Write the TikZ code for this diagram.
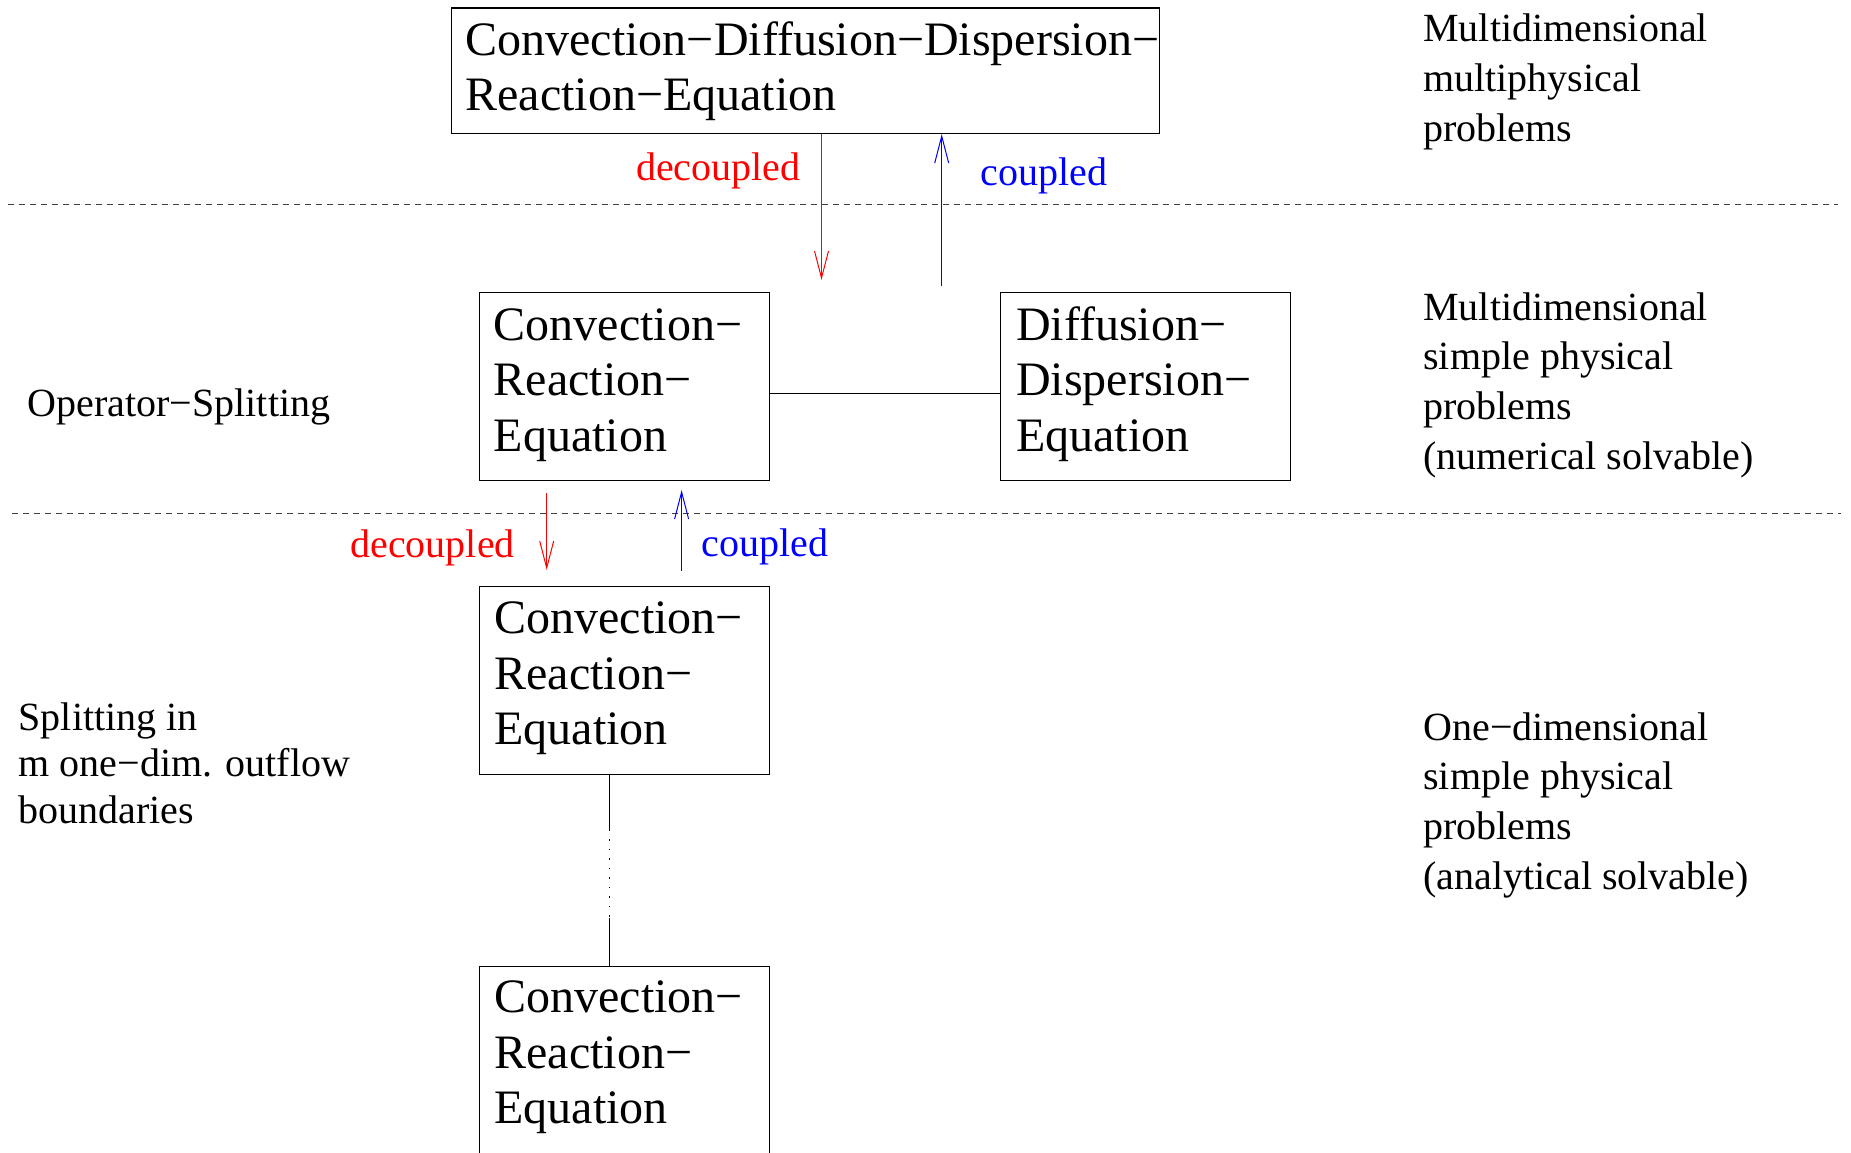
\documentclass[tikz,border=0pt]{standalone}
\usepackage{fontspec}
\setmainfont{Liberation Serif}
\usetikzlibrary{arrows.meta,calc}
\newcommand\mlines[1]{\begin{tabular}[t]{@{}l@{}}#1\end{tabular}}
\begin{document}
\begin{tikzpicture}[x=0.5pt,y=-0.5pt,
  eqbox/.style={draw,line width=0.7pt,rectangle,inner sep=0pt,anchor=north west,
    minimum width=144.8pt,minimum height=94.1pt},
  bigtxt/.style={font=\fontsize{24pt}{27.75pt}\selectfont,inner sep=0pt,anchor=base west},
  smalltxt/.style={font=\fontsize{20pt}{24.85pt}\selectfont,inner sep=0pt,anchor=base west},
  lefttxt/.style={font=\fontsize{20pt}{23.35pt}\selectfont,inner sep=0pt,anchor=base west},
  lbl/.style={font=\fontsize{20pt}{24pt}\selectfont,inner sep=0pt},
  link/.style={line width=0.7pt},
  arr/.style={line width=0.5pt,-{Straight Barb[length=13.5pt,width=7pt,line width=0.5pt]}},
  sepline/.style={line width=0.5pt,black!75,dash pattern=on 2.75pt off 2.75pt},
  dotline/.style={line width=0.5pt,dash pattern=on 0.6pt off 4.15pt}]
\clip (0,0) rectangle (1851,1152);
\fill[white] (0,0) rectangle (1851,1152);

% separators
\coordinate (s1a) at (8,204.5);  \coordinate (s1b) at (1838,204.5);
\coordinate (s2a) at (12,513.3); \coordinate (s2b) at (1841,513.3);
\draw[sepline] (s1a) -- (s1b);
\draw[sepline] (s2a) -- (s2b);

% boxes
\node[eqbox,minimum width=354.1pt,minimum height=62.7pt] (top) at (450.7,7.3) {};
\node[bigtxt] (toptxt) at ($(top.north west)+(14.5,47.7)$)
  {\mlines{Convection−Diffusion−Dispersion−\\Reaction−Equation}};
\node[eqbox] (cre) at (479,291.7) {};
\node[bigtxt] (cretxt) at ($(cre.north west)+(14.4,48.3)$)
  {\mlines{Convection−\\Reaction−\\Equation}};
\node[eqbox] (dde) at (1000,291.7) {};
\node[bigtxt] (ddetxt) at ($(dde.north west)+(15.8,48.3)$)
  {\mlines{Diffusion−\\Dispersion−\\Equation}};
\node[eqbox] (cr1) at (479,585.7) {};
\node[bigtxt] (cr1txt) at ($(cr1.north west)+(15,47.9)$)
  {\mlines{Convection−\\Reaction−\\Equation}};
\node[eqbox] (crm) at (479,965.7) {};
\node[bigtxt] (crmtxt) at ($(crm.north west)+(15,47.1)$)
  {\mlines{Convection−\\Reaction−\\Equation}};

% connectors
\draw[link] ([yshift=-3.5pt]cre.east) -- ([yshift=-3.5pt]dde.west);
\coordinate (v1) at (609.3,829.8);
\coordinate (v2) at (609.3,917.5);
\draw[link,line width=0.55pt] (cr1.south -| v1) -- (v1);
\draw[dotline] (v1) -- (v2);
\draw[link,line width=0.55pt] (v2) -- (crm.north -| v2);

% coupling arrows (top)
\coordinate (rt1) at (821.5,280);
\draw[red,arr] (top.south -| rt1) -- (rt1);
\coordinate (bt1) at (941.7,286);
\draw[blue,arr] (bt1) -- (top.south -| bt1);
% coupling arrows (middle)
\coordinate (rs2) at (546.7,493);   \coordinate (rt2) at (546.7,570);
\draw[red,arr] (rs2) -- (rt2);
\coordinate (bs2) at (681.6,570.7); \coordinate (bt2) at (681.6,490);
\draw[blue,arr] (bs2) -- (bt2);

% arrow labels
\node[lbl,red,anchor=base east] (dec1) at (801,180) {decoupled};
\node[lbl,blue,anchor=base west] (cou1) at (980.5,185) {coupled};
\node[lbl,red,anchor=base west] (dec2) at (350,557) {decoupled};
\node[lbl,blue,anchor=base west] (cou2) at (701,556) {coupled};

% left texts
\node[lefttxt] (opsplit) at (27.3,416) {Operator−Splitting};
\node[lefttxt] (msplit) at (18.3,730)
  {\mlines{Splitting in\\m one−dim. outflow\\boundaries}};

% right texts
\node[smalltxt] (lvl1) at (1423,41.7)
  {\mlines{Multidimensional\\multiphysical\\problems}};
\node[smalltxt] (lvl2) at (1423,320)
  {\mlines{Multidimensional\\simple physical\\problems\\(numerical solvable)}};
\node[smalltxt] (lvl3) at (1423,740)
  {\mlines{One−dimensional\\simple physical\\problems\\(analytical solvable)}};
\end{tikzpicture}
\end{document}
